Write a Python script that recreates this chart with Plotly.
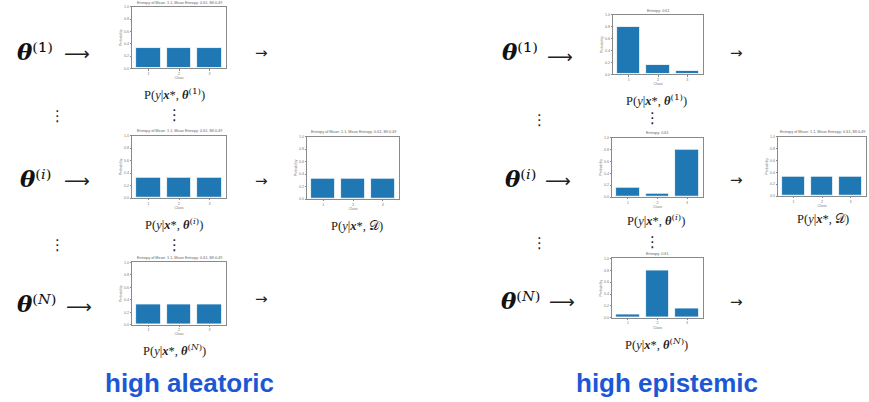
import plotly.graph_objects as go

W, H = 869, 402

classes = ["1", "2", "3"]
class_pos = [1, 2, 3]
y_ticks = [0.0, 0.2, 0.4, 0.6, 0.8, 1.0]
y_tick_labels = ["0.0", "0.2", "0.4", "0.6", "0.8", "1.0"]

# aleatoric (left) panel probabilities
alea_theta1 = [0.333, 0.333, 0.333]
alea_thetai = [0.333, 0.333, 0.333]
alea_thetaN = [0.333, 0.333, 0.333]
alea_mean = [0.333, 0.333, 0.333]
# epistemic (right) panel probabilities
epi_theta1 = [0.80, 0.15, 0.05]
epi_thetai = [0.15, 0.05, 0.80]
epi_thetaN = [0.05, 0.80, 0.15]
epi_mean = [0.333, 0.333, 0.333]

title_alea = "Entropy of Mean: 1.1, Mean Entropy: 0.61, MI:0.49"
title_epi = "Entropy: 0.61"
title_mean = "Entropy of Mean: 1.1, Mean Entropy: 0.61, MI:0.49"

BAR = "#1f77b4"
SMALL = "Liberation Sans"

# (values, title, box px: x0, x1, y0, y1)
panels = [
    (alea_theta1, title_alea, (132, 226, 5, 67)),
    (alea_thetai, title_alea, (132, 226, 135, 198)),
    (alea_thetaN, title_alea, (132, 226, 263, 326)),
    (alea_mean, title_mean, (307, 399, 136, 199)),
    (epi_theta1, title_epi, (613, 703, 13, 73)),
    (epi_thetai, title_epi, (612, 703, 137, 197)),
    (epi_thetaN, title_epi, (612, 703, 259, 319)),
    (epi_mean, title_mean, (778, 866, 136, 196)),
]

def px(x):
    return x / W

def py(y):
    return 1 - y / H

fig = go.Figure()
annotations = []
layout = {}
for k, (vals, ttl, (x0, x1, y0, y1)) in enumerate(panels, start=1):
    sfx = "" if k == 1 else str(k)
    fig.add_trace(go.Bar(
        x=class_pos, y=vals, width=0.8,
        marker=dict(color=BAR, line=dict(color="white", width=0.8)),
        xaxis="x" + sfx, yaxis="y" + sfx, showlegend=False,
    ))
    common = dict(showline=True, linecolor="#8a8a8a", linewidth=0.7, mirror=True,
                  showgrid=False, zeroline=False, ticks="outside", ticklen=1.5,
                  tickwidth=0.5, tickcolor="#888",
                  tickfont=dict(size=3.6, color="#777", family=SMALL))
    layout["xaxis" + sfx] = dict(
        domain=[px(x0), px(x1)], anchor="y" + sfx, range=[0.46, 3.54],
        tickvals=class_pos, ticktext=classes,
        title=dict(text="Class", font=dict(size=3.6, color="#777", family=SMALL), standoff=1),
        **common)
    layout["yaxis" + sfx] = dict(
        domain=[py(y1), py(y0)], anchor="x" + sfx, range=[0, 1.0],
        tickvals=y_ticks, ticktext=y_tick_labels,
        title=dict(text="Probability", font=dict(size=3.6, color="#777", family=SMALL), standoff=1),
        **common)
    annotations.append(dict(
        x=px((x0 + x1) / 2), y=py(y0 - 0.3), xref="paper", yref="paper",
        text=ttl, showarrow=False, xanchor="center", yanchor="bottom",
        font=dict(size=3.8, color="#666", family=SMALL)))

SUPS = {"1": "⁽¹⁾", "i": "⁽<i>ⁱ</i>⁾", "N": "⁽<i>ᴺ</i>⁾"}

def plabel(s):
    return ("P(<i>y</i>|<b><i>x</i></b>*, <b><i>θ</i></b>"
            "<span style='font-family:DejaVu Serif;font-size:14px'>" + SUPS[s] + "</span>)")

def dlabel():
    return "P(<i>y</i>|<b><i>x</i></b>*, 𝒟)"

# distribution labels: (text, cx, cy)
labels = [
    (plabel("1"), 174, 93), (plabel("i"), 174, 224), (plabel("N"), 174, 352),
    (dlabel(), 357, 226),
    (plabel("1"), 656, 99), (plabel("i"), 656, 220), (plabel("N"), 656, 345),
    (dlabel(), 823, 219),
]
for t, cx, cy in labels:
    annotations.append(dict(x=px(cx), y=py(cy), xref="paper", yref="paper", text=t,
                            showarrow=False, xanchor="center", yanchor="middle",
                            font=dict(size=12.5, color="#222", family="Liberation Serif")))

# theta labels
thetas = [
    ("1", 35, 50), ("i", 35, 178), ("N", 36, 305),
    ("1", 520, 50), ("i", 520, 178), ("N", 520, 301),
]
for s, cx, cy in thetas:
    annotations.append(dict(x=px(cx), y=py(cy), xref="paper", yref="paper",
                            text="<b><i>θ</i></b>" + SUPS[s],
                            showarrow=False, xanchor="center", yanchor="middle",
                            font=dict(size=23, color="#111", family="DejaVu Serif")))

# long arrows after theta
for cx, cy in [(77, 52), (77, 180), (79, 308), (560, 55), (558, 180), (562, 303)]:
    annotations.append(dict(x=px(cx), y=py(cy), xref="paper", yref="paper", text="⟶",
                            showarrow=False, xanchor="center", yanchor="middle",
                            font=dict(size=18, color="#222", family="DejaVu Sans")))
# short arrows after charts
for cx, cy in [(261, 52), (261, 181), (261, 300), (736, 52), (736, 180), (736, 303)]:
    annotations.append(dict(x=px(cx), y=py(cy), xref="paper", yref="paper", text="→",
                            showarrow=False, xanchor="center", yanchor="middle",
                            font=dict(size=15, color="#222", family="DejaVu Sans")))
# vertical dots
for cx, cy in [(57, 115), (57, 245), (174, 114), (174, 245),
               (539, 119), (539, 243), (652, 117), (652, 242)]:
    annotations.append(dict(x=px(cx), y=py(cy), xref="paper", yref="paper", text="⋮",
                            showarrow=False, xanchor="center", yanchor="middle",
                            font=dict(size=15, color="#222", family="DejaVu Sans")))

# bottom captions
for t, cx in [("high aleatoric", 189), ("high epistemic", 667)]:
    annotations.append(dict(x=px(cx), y=py(385), xref="paper", yref="paper",
                            text="<b>" + t + "</b>", showarrow=False,
                            xanchor="center", yanchor="middle",
                            font=dict(size=26, color="#1c58d4", family="Liberation Sans")))

fig.update_layout(
    width=W, height=H, margin=dict(l=0, r=0, t=0, b=0),
    paper_bgcolor="white", plot_bgcolor="white",
    annotations=annotations, bargap=0, **layout,
)

fig.write_html("out.html", config={"displayModeBar": False})
